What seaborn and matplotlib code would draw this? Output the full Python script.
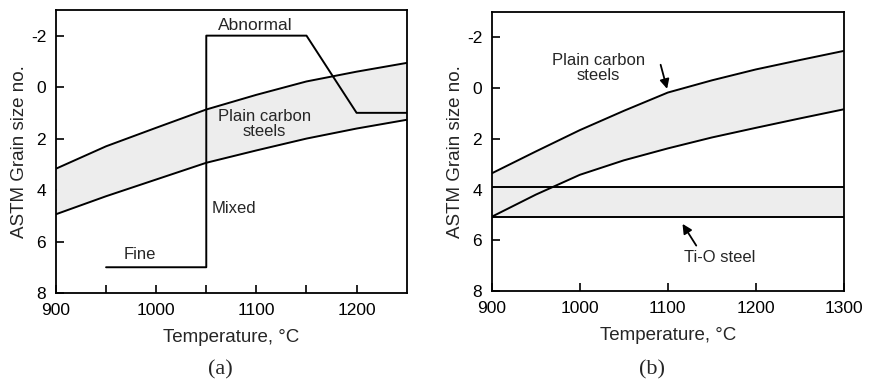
import numpy as np
import pandas as pd
import seaborn as sns
import matplotlib.pyplot as plt

# panel (a): plain carbon steel band + grain coarsening path
temp_a = [900, 950, 1000, 1050, 1100, 1150, 1200, 1250]
upper_a = [3.17, 2.3, 1.58, 0.87, 0.3, -0.22, -0.6, -0.94]
lower_a = [4.94, 4.24, 3.59, 2.94, 2.46, 2.0, 1.61, 1.27]

path_temp = [950, 1050, 1050, 1150, 1200, 1250]
path_size = [7, 7, -2, -2, 1, 1]

# panel (b): plain carbon band and Ti-O steel band
temp_b = [900, 950, 1000, 1050, 1100, 1150, 1200, 1250, 1300]
upper_b = [3.36, 2.5, 1.66, 0.9, 0.18, -0.3, -0.73, -1.1, -1.46]
lower_b = [5.07, 4.2, 3.42, 2.85, 2.38, 1.95, 1.57, 1.2, 0.84]
tio_temp = [900, 1300]
tio_upper = [3.9, 3.9]
tio_lower = [5.08, 5.08]

sns.set_theme(style='white')
plt.rcParams['font.family'] = ['Liberation Sans', 'DejaVu Sans']
plt.rcParams['axes.edgecolor'] = 'black'
plt.rcParams['axes.linewidth'] = 1.3

fig = plt.figure(figsize=(8.69, 3.81), dpi=100)
ax1 = fig.add_axes([0.0644, 0.231, 0.4036, 0.743])
ax2 = fig.add_axes([0.566, 0.236, 0.405, 0.733])

band = '#ededed'
lw = 1.4

# (a)
df_a = pd.DataFrame({'T': temp_a, 'up': upper_a, 'lo': lower_a})
ax1.fill_between(df_a['T'], df_a['up'], df_a['lo'], color=band, lw=0)
sns.lineplot(data=df_a, x='T', y='up', ax=ax1, color='black', lw=lw)
sns.lineplot(data=df_a, x='T', y='lo', ax=ax1, color='black', lw=lw)
sns.lineplot(x=path_temp, y=path_size, ax=ax1, color='black', lw=lw,
             estimator=None, sort=False)
ax1.set_xlim(900, 1250)
ax1.set_xticks([900, 950, 1000, 1050, 1100, 1150, 1200])
ax1.set_xticklabels(['900', '', '1000', '', '1100', '', '1200'])
ax1.text(1099, -2.12, 'Abnormal', ha='center', va='bottom', fontsize=12.5)
ax1.text(1108, 1.42, 'Plain carbon\nsteels', ha='center', va='center',
         fontsize=12, linespacing=1.0)
ax1.text(1078, 4.7, 'Mixed', ha='center', va='center', fontsize=12)
ax1.text(984, 6.5, 'Fine', ha='center', va='center', fontsize=12)

# (b)
df_b = pd.DataFrame({'T': temp_b, 'up': upper_b, 'lo': lower_b})
ax2.fill_between(df_b['T'], df_b['up'], df_b['lo'], color=band, lw=0)
ax2.fill_between(tio_temp, tio_upper, tio_lower, color=band, lw=0)
sns.lineplot(data=df_b, x='T', y='up', ax=ax2, color='black', lw=lw)
sns.lineplot(data=df_b, x='T', y='lo', ax=ax2, color='black', lw=lw)
sns.lineplot(x=tio_temp, y=tio_upper, ax=ax2, color='black', lw=lw)
sns.lineplot(x=tio_temp, y=tio_lower, ax=ax2, color='black', lw=lw)
ax2.set_xlim(900, 1300)
ax2.set_xticks([900, 1000, 1100, 1200, 1300])
ax2.text(1021, -0.77, 'Plain carbon\nsteels', ha='center', va='center',
         fontsize=12, linespacing=1.0)
ax2.annotate('', xy=(1100, 0.14), xytext=(1091, -1.02),
             arrowprops=dict(arrowstyle='-|>', color='black', lw=1.3,
                             mutation_scale=14))
ax2.text(1159, 6.68, 'Ti-O steel', ha='center', va='center', fontsize=12)
ax2.annotate('', xy=(1115, 5.26), xytext=(1134, 6.3),
             arrowprops=dict(arrowstyle='-|>', color='black', lw=1.3,
                             mutation_scale=14))

for ax in [ax1, ax2]:
    ax.set_ylim(8, -3)
    ax.set_yticks([8, 6, 4, 2, 0, -2])
    ax.set_yticklabels(['8', '6', '4', '2', '0', '-2'])
    ax.tick_params(direction='in', length=6, width=1.2, labelsize=12.5,
                   colors='black', bottom=True, left=True)
    ax.tick_params(axis='x', pad=7)
    ax.tick_params(axis='y', pad=7)
    ax.set_xlabel('Temperature, °C', fontsize=13.5, labelpad=8)
    ax.set_ylabel('ASTM Grain size no.', fontsize=13.5, labelpad=2)
    for s in ax.spines.values():
        s.set_color('black')

fig.text(220 / 869, 1 - 370 / 381, '(a)', ha='center', va='center',
         fontsize=16, family='Liberation Serif')
fig.text(652 / 869, 1 - 370 / 381, '(b)', ha='center', va='center',
         fontsize=16, family='Liberation Serif')

fig.savefig('out.png', dpi=100)
